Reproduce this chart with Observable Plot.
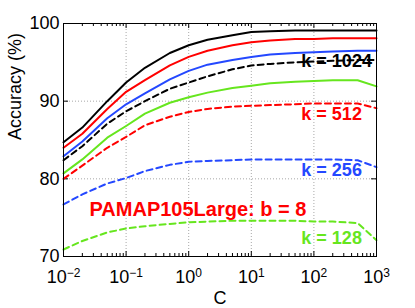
<!DOCTYPE html>
<html><head><meta charset="utf-8">
<script src="https://cdn.jsdelivr.net/npm/d3@7"></script>
<script src="https://cdn.jsdelivr.net/npm/@observablehq/plot@0.6"></script>
<style>body{margin:0;background:#fff}</style>
</head><body><div id="chart"></div>
<script>
// C values (log x axis)
const C = [0.01, 0.02, 0.05, 0.1, 0.2, 0.5, 1, 2, 5, 10, 20, 50, 100, 200, 500, 1000];
// solid lines
const solidK1024 = [84.7, 86.6, 90.0, 92.4, 94.3, 96.2, 97.2, 97.9, 98.5, 98.9, 99.0, 99.1, 99.1, 99.1, 99.1, 99.1];
const solidK512  = [84.0, 85.8, 89.0, 91.2, 92.7, 94.6, 95.7, 96.5, 97.2, 97.6, 97.8, 98.0, 98.0, 98.1, 98.1, 98.1];
const solidK256  = [82.9, 84.8, 87.8, 89.6, 91.0, 92.8, 93.9, 94.7, 95.3, 95.7, 96.0, 96.2, 96.3, 96.4, 96.5, 96.5];
const solidK128  = [80.7, 82.5, 85.3, 86.8, 88.4, 89.8, 90.5, 91.1, 91.7, 92.0, 92.3, 92.5, 92.6, 92.7, 92.7, 91.9];
// dashed lines
const dashedK1024 = [82.4, 84.2, 87.1, 88.7, 90.0, 91.6, 92.4, 93.2, 94.1, 94.6, 94.8, 95.0, 95.1, 95.2, 95.3, 95.3];
const dashedK512  = [80.0, 81.7, 84.0, 85.4, 86.9, 88.0, 88.6, 89.0, 89.3, 89.4, 89.5, 89.6, 89.7, 89.7, 89.7, 89.1];
const dashedK256  = [76.7, 78.0, 79.4, 80.1, 81.0, 81.8, 82.2, 82.3, 82.4, 82.5, 82.5, 82.5, 82.5, 82.5, 82.4, 81.5];
const dashedK128  = [70.9, 72.0, 73.1, 73.6, 73.9, 74.2, 74.4, 74.5, 74.6, 74.6, 74.6, 74.6, 74.5, 74.5, 74.3, 72.1];

const kNames = ["k = 1024", "k = 512", "k = 256", "k = 128"];
const kColors = ["#000000", "#ff0000", "#2448ff", "#66e61e"];
const labelC = [63, 63, 63, 63];
const labelAcc = [95.1, 88.3, 81.15, 72.4];
const titleText = "PAMAP105Large: b = 8";
const titleC = 0.026, titleAcc = 76.1;

const xTicks = [0.01, 0.1, 1, 10, 100, 1000];
const xTickExps = ["\u22122", "\u22121", "0", "1", "2", "3"];
const yTicks = [70, 80, 90, 100];
const xLabel = "C";
const yLabel = "Accuracy (%)";

const solids = [solidK1024, solidK512, solidK256, solidK128];
const dashes = [dashedK1024, dashedK512, dashedK256, dashedK128];
const rowsOf = (arrs) => arrs.flatMap((vals, i) => vals.map((v, j) => ({C: C[j], acc: v, key: kNames[i], color: kColors[i]})));
const solidRows = rowsOf(solids);
const dashedRows = rowsOf(dashes);
const labels = kNames.map((t, i) => ({t, x: labelC[i], y: labelAcc[i], color: kColors[i]}));

const minorTicks = [];
for (const d of xTicks.slice(0, -1)) for (let m = 2; m <= 9; m++) minorTicks.push(d * m);

const W = 415, H = 308, mL = 63, mR = 39, mT = 23, mB = 52;
const pH = H - mT - mB, pW = W - mL - mR;

const chart = Plot.plot({
  width: W, height: H, marginLeft: mL, marginRight: mR, marginTop: mT, marginBottom: mB,
  style: {fontFamily: "'Liberation Sans', Arial, Helvetica, sans-serif", fontSize: "18px", background: "#fff", color: "#000"},
  x: {type: "log", domain: [0.01, 1000]},
  y: {domain: [70, 100]},
  color: {type: "identity"},
  marks: [
    Plot.ruleX(xTicks, {stroke: "#a8a8a8", strokeDasharray: "1,2", strokeWidth: 1}),
    Plot.ruleY(yTicks, {stroke: "#a8a8a8", strokeDasharray: "1,2", strokeWidth: 1}),
    Plot.ruleX(minorTicks, {stroke: "#000", insetTop: pH - 3}),
    Plot.ruleX(minorTicks, {stroke: "#000", insetBottom: pH - 3}),
    Plot.ruleX(xTicks, {stroke: "#000", insetTop: pH - 5}),
    Plot.ruleX(xTicks, {stroke: "#000", insetBottom: pH - 5}),
    Plot.ruleY(yTicks, {stroke: "#000", insetRight: pW - 5}),
    Plot.ruleY(yTicks, {stroke: "#000", insetLeft: pW - 5}),
    Plot.line(dashedRows, {x: "C", y: "acc", z: "key", stroke: "color", strokeWidth: 2, strokeDasharray: "6,4"}),
    Plot.line(solidRows, {x: "C", y: "acc", z: "key", stroke: "color", strokeWidth: 2}),
    Plot.text(labels, {x: "x", y: "y", text: "t", fill: "color", fontWeight: "bold", fontSize: 18, textAnchor: "start"}),
    Plot.text([titleText], {x: () => titleC, y: () => titleAcc, text: d => d, fill: "#ff0000", fontWeight: "bold", fontSize: 20, textAnchor: "start"}),
    Plot.frame({stroke: "#000", strokeWidth: 1}),
    Plot.axisX(xTicks, {tickSize: 0, tickPadding: 14, tickFormat: () => "10", fontSize: 18}),
    Plot.axisY(yTicks, {tickSize: 0, tickPadding: 4, fontSize: 18, label: null}),
    Plot.text([xLabel], {frameAnchor: "bottom", lineAnchor: "bottom", dy: 47, text: d => d, fontSize: 18}),
    Plot.text([yLabel], {frameAnchor: "left", lineAnchor: "bottom", dx: -43, rotate: -90, text: d => d, fontSize: 18})
  ]
});

// superscript exponents on the x tick labels
d3.select(chart).selectAll('g[aria-label="x-axis tick label"] text').each(function(d, i) {
  const t = d3.select(this);
  t.text(null);
  t.append("tspan").text("10");
  t.append("tspan").attr("dy", "-0.5em").attr("font-size", "12px").text(xTickExps[i]);
});
d3.select(chart).selectAll('g[aria-label="x-axis label"], g[aria-label="y-axis label"]').remove();

document.getElementById("chart").appendChild(chart);
</script></body></html>
